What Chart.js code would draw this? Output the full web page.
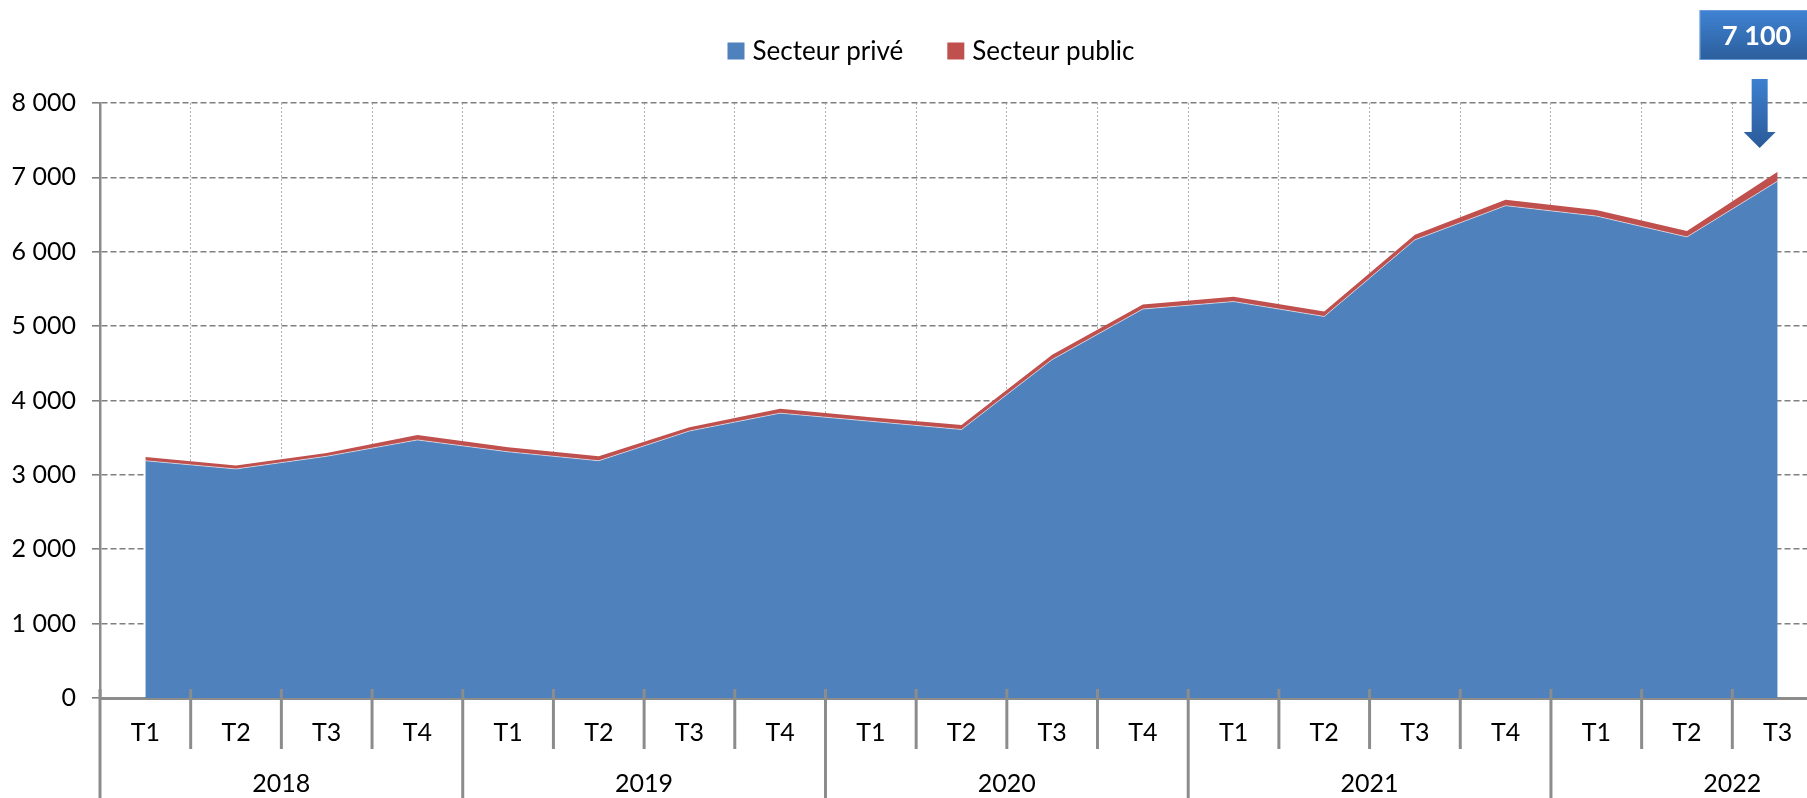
<!DOCTYPE html>
<html>
<head>
<meta charset="utf-8">
<script src="https://cdn.jsdelivr.net/npm/chart.js@4"></script>
<style>
  html, body { margin: 0; padding: 0; background: #fff; overflow: hidden; }
  #wrap { width: 1830px; height: 798px; }
</style>
</head>
<body>
<div id="wrap"><canvas id="chart" width="1830" height="798"></canvas></div>
<script>
const quarters = ["T1", "T2", "T3", "T4", "T1", "T2", "T3", "T4", "T1", "T2", "T3", "T4", "T1", "T2", "T3", "T4", "T1", "T2", "T3"];
const years = ["2018", "2019", "2020", "2021", "2022"];
const secteurPrive = [3190, 3080, 3250, 3470, 3310, 3190, 3590, 3830, 3720, 3610, 4550, 5230, 5330, 5130, 6160, 6620, 6480, 6200, 6950];
const secteurPublic = [50, 45, 45, 65, 60, 60, 50, 60, 55, 60, 65, 60, 65, 65, 70, 80, 80, 80, 125];
const seriesNames = ["Secteur privé", "Secteur public"];
const seriesColors = ["#4F81BD", "#C0504D"];

const fmt = (v) => String(v).replace(/\B(?=(\d{3})+(?!\d))/g, " ");

Chart.defaults.font.family = "Lato";
Chart.defaults.color = "#000";

// two-level category axis: quarter separators, year separators and year labels
const axisDecor = {
  id: "axisDecor",
  afterDraw(chart) {
    const { ctx, chartArea, scales: { x } } = chart;
    const w = x.getPixelForValue(1) - x.getPixelForValue(0);
    const left = x.getPixelForValue(0) - w / 2;
    const bottom = chartArea.bottom;
    ctx.save();
    ctx.strokeStyle = "#8c8c8c";
    ctx.lineWidth = 3;
    for (let i = 0; i <= quarters.length; i++) {
      const px = left + i * w;
      ctx.beginPath();
      ctx.moveTo(px, bottom - 9);
      ctx.lineTo(px, i % 4 === 0 ? chart.height : bottom + 51);
      ctx.stroke();
    }
    ctx.fillStyle = "#000";
    ctx.font = "25px Lato";
    ctx.textAlign = "center";
    ctx.textBaseline = "middle";
    years.forEach((yr, g) => {
      ctx.fillText(yr, left + g * 4 * w + 2 * w, bottom + 86);
    });
    ctx.restore();
  }
};

// legend drawn by hand so it sits where the original one is
const topLegend = {
  id: "topLegend",
  afterDraw(chart) {
    const ctx = chart.ctx;
    ctx.save();
    ctx.font = "26px Lato";
    ctx.textBaseline = "middle";
    const box = 17, gap = 8, between = 44;
    const widths = seriesNames.map((n) => box + gap + ctx.measureText(n).width);
    const total = widths.reduce((a, b) => a + b, 0) + between * (widths.length - 1);
    let cx = 931 - total / 2;
    const cy = 51;
    seriesNames.forEach((n, i) => {
      ctx.fillStyle = seriesColors[i];
      ctx.fillRect(cx, cy - box / 2, box, box);
      ctx.fillStyle = "#000";
      ctx.fillText(n, cx + box + gap, cy + 1);
      cx += widths[i] + between;
    });
    ctx.restore();
  }
};

// "7 100" callout with arrow over the last quarter
const callout = {
  id: "callout",
  afterDraw(chart) {
    const { ctx, scales: { x } } = chart;
    const last = quarters.length - 1;
    const lx = x.getPixelForValue(last);
    const total = secteurPrive[last] + secteurPublic[last];
    const label = fmt(Math.round(total / 100) * 100);
    ctx.save();
    let g = ctx.createLinearGradient(0, 10, 0, 60);
    g.addColorStop(0, "#3F83D4");
    g.addColorStop(1, "#2C5E9C");
    ctx.fillStyle = g;
    ctx.fillRect(lx - 78, 10, 130, 50);
    ctx.strokeStyle = "#6a9ad6";
    ctx.lineWidth = 1;
    ctx.strokeRect(lx - 77.5, 10.5, 129, 49);
    ctx.fillStyle = "#fff";
    ctx.font = "bold 27px Lato";
    ctx.textAlign = "center";
    ctx.textBaseline = "middle";
    ctx.fillText(label, lx - 21, 36);
    g = ctx.createLinearGradient(0, 79, 0, 148);
    g.addColorStop(0, "#3D80D0");
    g.addColorStop(1, "#2A5A98");
    ctx.fillStyle = g;
    ctx.beginPath();
    ctx.moveTo(lx - 26, 79);
    ctx.lineTo(lx - 10, 79);
    ctx.lineTo(lx - 10, 132);
    ctx.lineTo(lx - 2, 132);
    ctx.lineTo(lx - 18, 148);
    ctx.lineTo(lx - 34, 132);
    ctx.lineTo(lx - 26, 132);
    ctx.closePath();
    ctx.fill();
    ctx.restore();
  }
};

new Chart(document.getElementById("chart"), {
  type: "line",
  data: {
    labels: quarters,
    datasets: [
      {
        label: seriesNames[0],
        data: secteurPrive,
        backgroundColor: seriesColors[0],
        borderColor: "rgba(255,255,255,0.55)",
        borderWidth: 1,
        pointRadius: 0,
        fill: "origin",
        tension: 0,
      },
      {
        label: seriesNames[1],
        data: secteurPublic,
        backgroundColor: seriesColors[1],
        borderColor: seriesColors[1],
        borderWidth: 0,
        pointRadius: 0,
        fill: "-1",
        tension: 0,
      },
    ],
  },
  options: {
    responsive: false,
    animation: false,
    layout: { padding: { top: 103, right: 7, left: 0, bottom: 0 } },
    scales: {
      x: {
        offset: true,
        grid: { offset: true, color: "#b0b0b0", lineWidth: 1, drawTicks: false },
        border: { color: "#8c8c8c", width: 3, dash: [2, 2] },
        ticks: { font: { size: 25 }, padding: 20, maxRotation: 0, autoSkip: false },
        afterFit: (scale) => { scale.height = 100; },
      },
      y: {
        stacked: true,
        min: 0,
        max: 8000,
        grid: { color: "#808080", lineWidth: 1.6, tickLength: 8 },
        border: { color: "#8c8c8c", width: 2.5, dash: [6, 3] },
        ticks: { stepSize: 1000, font: { size: 25 }, padding: 16, callback: (v) => fmt(v) },
        afterFit: (scale) => { scale.width = 100; },
      },
    },
    plugins: {
      legend: { display: false },
      tooltip: { enabled: false },
    },
  },
  plugins: [axisDecor, topLegend, callout],
});
</script>
</body>
</html>
